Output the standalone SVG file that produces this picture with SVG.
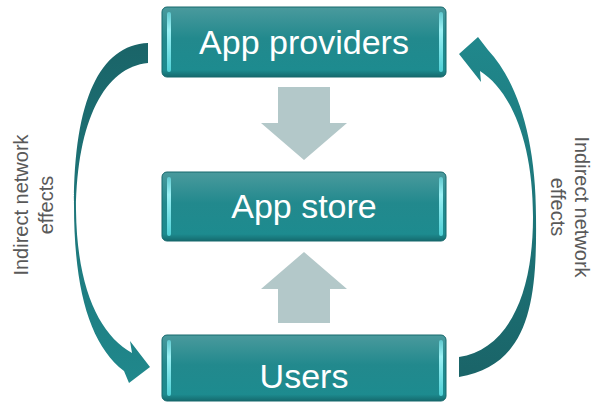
<svg xmlns="http://www.w3.org/2000/svg" width="592" height="402" viewBox="0 0 592 402">
  <defs>
    <style>
      .box-body { fill: url(#boxFill); stroke: #17686c; stroke-width: 1; }
      .box-glint { fill: url(#glint); }
      .box-label { font-family: "Liberation Sans", Arial, sans-serif; font-size: 34px; fill: #ffffff; text-anchor: middle; }
      .side-label { font-family: "Liberation Sans", Arial, sans-serif; font-size: 20px; fill: #595959; text-anchor: middle; }
      .flow { fill: #b3c8c9; }
    </style>
    <linearGradient id="boxFill" x1="0" y1="0" x2="0" y2="1">
      <stop offset="0" stop-color="#4a9a9d"/>
      <stop offset="0.45" stop-color="#22898d"/>
      <stop offset="0.9" stop-color="#1d8b8f"/>
      <stop offset="1" stop-color="#156a6e"/>
    </linearGradient>
    <linearGradient id="glint" x1="0" y1="0" x2="0" y2="1">
      <stop offset="0" stop-color="#5fc9cf"/>
      <stop offset="0.3" stop-color="#9cf2f6"/>
      <stop offset="1" stop-color="#4fd0d6"/>
    </linearGradient>
    <linearGradient id="curveDown" x1="0" y1="0" x2="0" y2="1">
      <stop offset="0" stop-color="#1a6468"/>
      <stop offset="1" stop-color="#20888c"/>
    </linearGradient>
    <linearGradient id="curveUp" x1="0" y1="1" x2="0" y2="0">
      <stop offset="0" stop-color="#1a6468"/>
      <stop offset="1" stop-color="#20888c"/>
    </linearGradient>
  </defs>

  <rect width="592" height="402" fill="#ffffff"/>

  <!-- connectors: curved feedback arrows and the two block arrows -->
  <g id="connectors">
    <path id="curve-left" fill="url(#curveDown)"
          d="M148,43 C100,45 74,100 74,205 C74,290 90,345 124,371 L129,383 L150,367 L130,341 L132,353 C100,335 77,290 76,210 C77,120 105,67 148,63 Z"/>
    <path id="curve-right" fill="url(#curveUp)"
          d="M459,377 C530,365 537,300 536,217 C536,140 518,82 488,50 L478,37 L459,54 L481,82 L480,71 C510,90 533,140 533,217 C533,300 505,350 459,357 Z"/>
    <polygon id="flow-down" class="flow" points="278,87 330,87 330,123 347,123 304,160 261,123 278,123"/>
    <polygon id="flow-up" class="flow" points="304,252 347,289 330,289 330,323 278,323 278,289 261,289"/>
  </g>

  <g id="node-providers">
    <rect class="box-body" x="162" y="7" width="284" height="70" rx="5"/>
    <rect class="box-glint" x="167" y="12" width="4" height="60" rx="2"/>
    <rect class="box-glint" x="439" y="12" width="4" height="60" rx="2"/>
    <text class="box-label" x="304" y="54">App providers</text>
  </g>

  <g id="node-store">
    <rect class="box-body" x="162" y="172" width="284" height="69" rx="5"/>
    <rect class="box-glint" x="167" y="177" width="4" height="59" rx="2"/>
    <rect class="box-glint" x="439" y="177" width="4" height="59" rx="2"/>
    <text class="box-label" x="304" y="218">App store</text>
  </g>

  <g id="node-users">
    <rect class="box-body" x="162" y="335" width="284" height="66" rx="5"/>
    <rect class="box-glint" x="167" y="340" width="4" height="56" rx="2"/>
    <rect class="box-glint" x="439" y="340" width="4" height="56" rx="2"/>
    <text class="box-label" x="304" y="388">Users</text>
  </g>

  <g id="label-left">
    <text class="side-label" transform="translate(28,205) rotate(-90)">Indirect network</text>
    <text class="side-label" transform="translate(53,205) rotate(-90)">effects</text>
  </g>

  <g id="label-right">
    <text class="side-label" transform="translate(575,207) rotate(90)">Indirect network</text>
    <text class="side-label" transform="translate(551,207) rotate(90)">effects</text>
  </g>
</svg>
